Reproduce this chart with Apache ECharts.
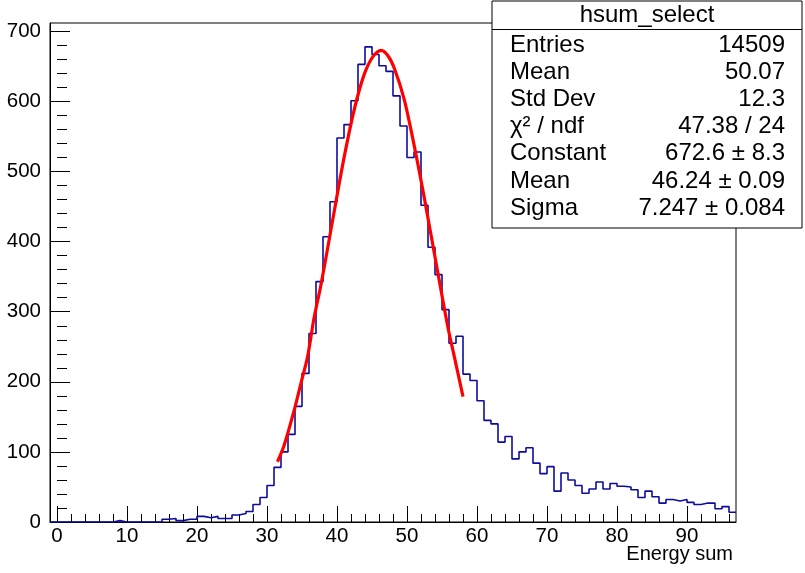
<!DOCTYPE html>
<html>
<head>
<meta charset="utf-8">
<script src="https://cdn.jsdelivr.net/npm/echarts@6/dist/echarts.min.js"></script>
<style>html,body{margin:0;padding:0;background:#fff}#c{width:805px;height:573px}</style>
</head>
<body>
<div id="c"></div>
<script>
// ---- data ----
const binStart = -1;      // low edge of first bin
const binWidth = 1;
const counts = [
  0,0,0,0,0,0,0,0,0,        // -1..7
  2,                        // 8
  0,0,0,0,0,0,              // 9..14
  4,5,2,4,4,8,6,8,5,5,10,12,15,25,35,52,   // 15..30
  78,100,125,165,212,269,343,407,457,548,567,601,653,678,667,651,643,608,565,520,528,452,392,353,303,255,265, // 31..57
  211,202,173,145,140,114,122,90,100,106,84,69,79,44,70,60,52,41,47,57,47,55,51,50,46,35,44,36,27,32,30,32,28,25,27,27,19,22,14 // 58..96
];
const fitX = [31.5, 32.4, 33.9, 34.9, 35.8, 36.7, 37.6, 38.4, 39.6, 41.05, 42.5, 43.9, 45.2, 46.3, 47.3, 48.2, 49.6, 51.05, 52.5, 54.4, 55.8, 57.0, 58.0];
const fitY = [86, 108, 160, 200, 236, 290, 333, 376, 443, 522, 590, 639, 665, 673, 665, 647, 603, 536, 461, 356, 280, 225, 179];
const xMajor = [0,10,20,30,40,50,60,70,80,90];
const xMinor = [0,2,4,6,8,10,12,14,16,18,20,22,24,26,28,30,32,34,36,38,40,42,44,46,48,50,52,54,56,58,60,62,64,66,68,70,72,74,76,78,80,82,84,86,88,90,92,94,96];
const yMajor = [0,100,200,300,400,500,600,700];
const yMinor = [0,20,40,60,80,100,120,140,160,180,200,220,240,260,280,300,320,340,360,380,400,420,440,460,480,500,520,540,560,580,600,620,640,660,680,700];
const statsTitle = 'hsum_select';
const statsLabels = ['Entries', 'Mean', 'Std Dev', 'χ² / ndf', 'Constant', 'Mean', 'Sigma'];
const statsValues = ['14509', '50.07', '12.3', '47.38 / 24', '672.6 ± 8.3', '46.24 ± 0.09', '7.247 ± 0.084'];
const xTitle = 'Energy sum';

// ---- build ----
const histPts = counts.map((c, i) => [binStart + i * binWidth, c]);
histPts.push([binStart + counts.length * binWidth, counts[counts.length - 1]]);
const fitPts = fitX.map((x, i) => [x, fitY[i]]);

const FONT = 'Liberation Sans, Arial, Helvetica, sans-serif';
const chart = echarts.init(document.getElementById('c'), null, {renderer: 'canvas'});

const g = [];
const boxL = 492, boxT = 1, boxW = 310, boxH = 227;
g.push({type: 'rect', z: 100, shape: {x: boxL, y: boxT, width: boxW, height: boxH},
  style: {fill: '#fff', stroke: '#000', lineWidth: 1}});
g.push({type: 'line', z: 101, shape: {x1: boxL, y1: 29.5, x2: boxL + boxW, y2: 29.5},
  style: {stroke: '#000', lineWidth: 1}});
g.push({type: 'text', z: 102, x: boxL + boxW / 2, y: 15,
  style: {text: statsTitle, font: '24px ' + FONT, fill: '#000', align: 'center', verticalAlign: 'middle'}});
const rowY = [45, 72, 99, 126, 153, 181, 208];
statsLabels.forEach((t, i) => {
  g.push({type: 'text', z: 102, x: 510, y: rowY[i],
    style: {text: t, font: '24px ' + FONT, fill: '#000', align: 'left', verticalAlign: 'middle'}});
  g.push({type: 'text', z: 102, x: 785, y: rowY[i],
    style: {text: statsValues[i], font: '24px ' + FONT, fill: '#000', align: 'right', verticalAlign: 'middle'}});
});
g.push({type: 'text', z: 50, x: 733, y: 554,
  style: {text: xTitle, font: '20px ' + FONT, fill: '#000', align: 'right', verticalAlign: 'middle'}});

chart.setOption({
  animation: false,
  backgroundColor: '#fff',
  grid: {left: 50, right: 69, top: 23, bottom: 51, show: true, borderColor: '#000', borderWidth: 1, backgroundColor: 'transparent'},
  xAxis: [{
    type: 'value', min: -1, max: 97, position: 'bottom',
    axisLine: {show: true, onZero: false, lineStyle: {color: '#000', width: 1}},
    axisTick: {show: true, inside: true, length: 16, customValues: xMajor, lineStyle: {color: '#000', width: 1}},
    axisLabel: {show: true, customValues: xMajor, fontFamily: FONT, fontSize: 20.5, color: '#000', margin: 4},
    splitLine: {show: false}
  }, {
    type: 'value', min: -1, max: 97, position: 'bottom', gridIndex: 0,
    axisLine: {show: false},
    axisTick: {show: true, inside: true, length: 8, customValues: xMinor, lineStyle: {color: '#000', width: 1}},
    axisLabel: {show: false},
    splitLine: {show: false}
  }],
  yAxis: [{
    type: 'value', min: 0, max: 712, position: 'left',
    axisLine: {show: true, onZero: false, lineStyle: {color: '#000', width: 1}},
    axisTick: {show: true, inside: true, length: 20, customValues: yMajor, lineStyle: {color: '#000', width: 1}},
    axisLabel: {show: true, customValues: yMajor, fontFamily: FONT, fontSize: 20.5, color: '#000', margin: 9},
    splitLine: {show: false}
  }, {
    type: 'value', min: 0, max: 712, position: 'left', offset: 0, gridIndex: 0,
    axisLine: {show: false},
    axisTick: {show: true, inside: true, length: 10, customValues: yMinor, lineStyle: {color: '#000', width: 1}},
    axisLabel: {show: false},
    splitLine: {show: false}
  }],
  series: [{
    type: 'line', name: 'hsum_select', step: 'end', data: histPts,
    xAxisIndex: 0, yAxisIndex: 0, symbol: 'none',
    lineStyle: {color: '#0c0ca0', width: 1.6}, z: 3
  }, {
    type: 'line', name: 'fit', data: fitPts, smooth: 0.3,
    xAxisIndex: 0, yAxisIndex: 0, symbol: 'none',
    lineStyle: {color: '#ff0000', width: 3.2}, z: 4
  }],
  graphic: g
});
</script>
</body>
</html>
